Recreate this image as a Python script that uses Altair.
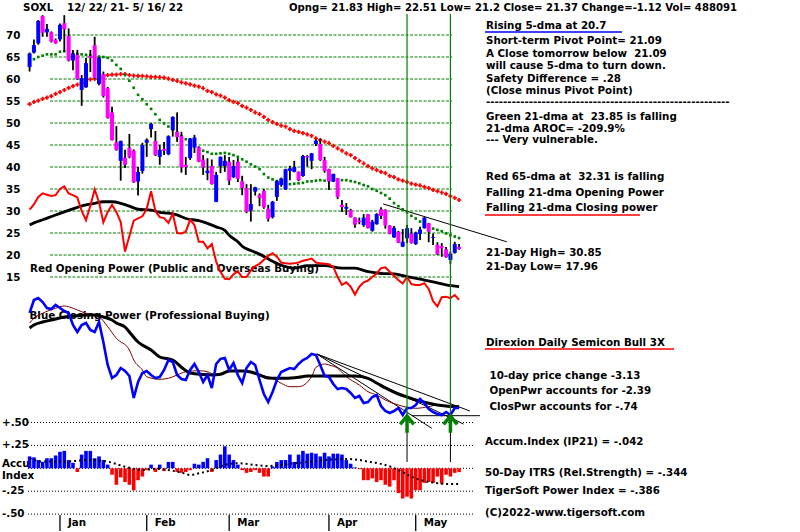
import altair as alt
import pandas as pd

# ---------------- data ----------------
day = list(range(100))   # trading days 12/22/21 .. 5/16/22
open_ = [62.7, 66.0, 68.1, 74.3, 70.6, 70.6, 68.9, 69.0, 72.7, 69.8,
         64.2, 65.5, 57.5, 58.1, 65.2, 67.7, 58.9, 61.1, 57.9, 52.4,
         45.6, 41.4, 42.1, 44.4, 43.7, 36.7, 39.1, 45.5, 48.6, 45.9,
         42.3, 44.1, 42.9, 48.4, 48.0, 47.0, 40.5, 42.0, 44.4, 44.5,
         41.7, 38.6, 40.2, 32.1, 40.2, 40.2, 41.2, 37.7, 41.2, 36.8,
         35.2, 30.1, 34.4, 33.6, 34.6, 30.5, 28.6, 33.2, 35.9, 34.9,
         39.1, 38.9, 38.9, 37.95, 42.5, 41.4, 45.2, 45.2, 41.6, 39.5,
         36.7, 37.4, 31.4, 30.5, 30.2, 28.5, 27.8, 26.8, 29.25, 25.5,
         27.0, 30.4, 30.2, 26.7, 24.0, 25.3, 21.9, 23.8, 24.9, 22.5,
         24.8, 26.1, 27.2, 23.9, 22.3, 22.0, 21.3, 18.9, 20.5, 21.83]
high = [66.0, 69.0, 73.4, 74.5, 72.5, 70.8, 69.2, 72.6, 74.5, 71.5,
        66.6, 66.6, 60.9, 64.8, 66.6, 69.6, 65.0, 61.7, 58.2, 53.7,
        49.3, 46.0, 43.9, 47.5, 44.0, 40.0, 45.5, 46.5, 50.0, 48.2,
        45.0, 45.7, 47.2, 51.5, 52.4, 48.0, 42.3, 46.6, 47.3, 44.7,
        42.7, 42.0, 41.7, 38.9, 42.4, 42.7, 42.3, 41.6, 42.0, 38.0,
        36.1, 36.1, 35.5, 34.0, 35.0, 31.4, 32.3, 37.0, 37.6, 39.6,
        40.3, 41.4, 39.0, 42.7, 42.7, 43.2, 46.3, 46.5, 42.3, 39.6,
        38.5, 37.5, 32.5, 31.8, 30.5, 28.6, 28.5, 29.3, 29.3, 28.0,
        29.5, 30.85, 30.4, 26.8, 26.6, 25.5, 25.9, 26.8, 26.1, 25.3,
        26.4, 28.6, 27.3, 24.9, 22.9, 22.7, 21.8, 20.75, 23.0, 22.51]
low = [61.7, 65.8, 67.8, 69.6, 69.6, 68.3, 68.0, 68.5, 66.2, 64.0,
       62.0, 59.8, 53.9, 58.0, 61.6, 60.0, 58.6, 55.8, 51.0, 46.0,
       43.7, 36.9, 39.8, 42.0, 36.4, 33.5, 38.5, 42.3, 46.7, 42.5,
       40.5, 42.7, 42.7, 46.9, 45.7, 38.7, 38.2, 41.6, 43.2, 41.1,
       38.2, 37.0, 36.0, 32.0, 38.6, 38.9, 35.9, 37.5, 36.6, 33.6,
       29.5, 27.6, 33.5, 31.1, 30.5, 27.6, 28.3, 32.3, 35.5, 34.8,
       37.0, 38.8, 36.8, 37.8, 40.1, 39.5, 44.8, 41.4, 38.7, 34.8,
       36.6, 32.7, 29.8, 29.1, 28.5, 26.2, 27.0, 26.4, 26.0, 25.3,
       26.9, 28.2, 26.0, 24.7, 23.9, 22.7, 21.8, 22.7, 22.6, 22.3,
       23.4, 26.0, 22.9, 22.3, 20.0, 19.6, 19.4, 17.96, 20.3, 21.2]
close = [65.8, 67.7, 73.2, 70.5, 71.4, 68.5, 68.1, 72.3, 71.3, 64.2,
         65.8, 60.0, 60.2, 63.6, 64.8, 60.2, 64.8, 56.1, 51.1, 46.1,
         43.9, 45.9, 40.5, 42.3, 36.5, 38.9, 45.0, 46.2, 49.8, 42.7,
         43.9, 43.7, 47.0, 51.4, 46.8, 39.9, 40.0, 46.5, 46.7, 41.2,
         39.9, 39.2, 36.1, 38.2, 42.3, 41.4, 36.9, 40.2, 37.3, 35.2,
         29.8, 31.6, 35.4, 33.0, 30.8, 28.2, 32.1, 36.8, 37.4, 39.5,
         39.7, 40.0, 37.0, 42.5, 42.2, 43.1, 46.0, 41.6, 39.1, 36.7,
         38.4, 33.2, 30.9, 30.9, 28.6, 26.9, 27.5, 28.5, 26.1, 27.6,
         29.3, 28.9, 26.7, 24.8, 26.2, 22.8, 23.0, 26.1, 22.7, 25.1,
         25.8, 28.5, 25.3, 24.1, 20.2, 21.5, 19.5, 20.3, 22.49, 21.37]
ma21 = [64.3, 64.5, 65.0, 65.3, 65.6, 65.6, 65.6, 66.2, 66.3, 66.0,
        65.8, 65.7, 65.6, 65.5, 65.4, 65.3, 65.1, 65.0, 64.8, 64.2,
        63.2, 62.3, 60.9, 59.6, 58.0, 56.4, 55.4, 54.25, 53.2, 52.0,
        50.7, 49.9, 49.2, 48.5, 47.8, 47.0, 46.3, 45.6, 45.0, 44.3,
        43.7, 43.4, 43.0, 43.0, 43.1, 43.2, 43.0, 42.7, 42.3, 41.75,
        41.2, 40.6, 40.1, 39.5, 38.4, 37.6, 37.2, 36.8, 36.4, 36.2,
        36.1, 36.2, 36.3, 36.4, 36.7, 36.75, 36.9, 37.0, 36.9, 36.9,
        37.0, 37.0, 37.0, 37.0, 36.8, 36.6, 36.3, 35.9, 35.6, 35.0,
        34.6, 34.1, 33.6, 32.8, 31.8, 31.1, 30.4, 29.7, 28.9, 28.3,
        27.6, 26.9, 26.4, 26.0, 25.7, 25.4, 24.9, 24.5, 24.2, 23.85]
ma65 = [54.3, 54.8, 55.1, 55.5, 55.75, 56.1, 56.6, 57.0, 57.5, 58.0,
        58.4, 58.7, 59.1, 59.5, 59.9, 60.0, 60.3, 60.6, 60.9, 61.0,
        61.0, 61.1, 61.1, 60.9, 60.75, 60.7, 60.7, 60.6, 60.5, 60.5,
        60.4, 60.3, 60.1, 59.8, 59.55, 59.25, 59.0, 58.8, 58.5, 58.25,
        57.9, 57.3, 57.0, 56.5, 56.2, 55.75, 55.2, 54.8, 54.5, 53.9,
        53.5, 53.0, 52.4, 52.0, 51.4, 50.7, 50.2, 49.8, 49.4, 49.2,
        48.6, 48.2, 48.0, 47.7, 47.4, 47.1, 46.5, 46.1, 45.75, 45.4,
        44.8, 44.25, 43.7, 43.1, 42.7, 42.0, 41.4, 40.8, 40.2, 39.7,
        39.3, 38.9, 38.6, 38.0, 37.7, 37.2, 36.9, 36.6, 36.2, 36.0,
        35.8, 35.5, 35.2, 34.8, 34.5, 34.2, 33.9, 33.4, 33.0, 32.5]
# Opening Power (drawn on the price panel's scale)
open_power = [30.3, 31.5, 33.2, 34.0, 33.7, 33.4, 33.6, 35.0, 35.6, 34.0,
              33.6, 33.1, 30.0, 27.9, 31.2, 34.9, 32.0, 27.4, 29.8, 31.4,
              29.8, 27.5, 20.8, 24.3, 27.8, 28.3, 28.8, 30.5, 34.5, 30.0,
              28.6, 28.4, 27.3, 29.4, 25.0, 24.9, 25.3, 28.0, 26.8, 23.0,
              23.0, 21.5, 22.5, 18.5, 16.2, 14.6, 14.5, 15.6, 16.3, 15.0,
              15.0, 16.5, 17.5, 18.0, 18.9, 19.8, 20.4, 19.6, 18.3, 18.1,
              18.0, 18.1, 18.3, 18.7, 18.9, 19.2, 18.3, 18.1, 18.0, 17.9,
              17.3, 15.0, 13.2, 13.8, 12.8, 11.0, 12.8, 13.8, 14.2, 15.0,
              15.8, 17.0, 17.2, 16.2, 15.3, 14.3, 13.5, 15.0, 13.4, 13.2,
              13.2, 13.6, 12.3, 9.5, 8.3, 10.4, 10.5, 10.2, 10.9, 9.8]
op_ma_days = [0, 1, 3, 6, 8, 10, 13, 15, 17, 19, 21, 23, 25, 28, 30, 32, 34, 36, 39, 41,
              43, 45, 46, 48, 49, 51, 53, 57, 61, 64, 68, 72, 75, 78, 81, 84, 87, 90, 93, 96, 99]
op_ma_vals = [26.8, 27.3, 28.0, 29.1, 29.8, 30.5, 31.4, 31.75, 32.1, 32.1, 31.75, 31.1, 30.4, 30.2,
              29.7, 29.5, 29.1, 28.3, 27.8, 27.2, 26.4, 25.6, 24.5, 23.0, 22.0, 21.0, 20.2, 18.1,
              17.0, 17.6, 17.6, 17.0, 17.0, 16.2, 15.8, 15.7, 15.1, 14.5, 13.9, 13.2, 12.8]
# Closing Power (own panel scale)
closing_power = [107, 120, 122, 118, 112, 111, 115, 112, 109, 107,
                 95, 88, 95, 97, 90, 88, 98, 78, 55, 42,
                 45, 52, 49, 44, 22, 38, 47, 49, 45, 42,
                 43, 50, 60, 58, 45, 41, 40, 50, 56, 48,
                 38, 45, 32, 56, 61, 62, 50, 57, 45, 37,
                 52, 58, 55, 40, 26, 18, 28, 40, 48, 50,
                 52, 51, 56, 60, 62, 66, 65, 55, 44, 43,
                 36, 31, 32, 31, 27, 22, 24, 17, 18, 23,
                 25, 14, 9, 7, 9, 12, 5, 12, 12, 15,
                 21, 17, 11, 8, 6, 5, 8, 5, 12, 12]
cp_ma_days = [0, 1, 3, 6, 8, 10, 13, 15, 17, 19, 20, 22, 23, 25, 28, 30, 33, 35, 37, 40,
              42, 44, 46, 49, 51, 53, 55, 57, 59, 62, 64, 66, 69, 72, 75, 78, 80, 82, 85, 87,
              89, 92, 94, 96, 99]
cp_ma_vals = [92, 95, 98, 101, 103, 104, 105, 105, 103, 100, 97, 93, 88, 78, 70, 63, 60, 52.7, 47, 45.5,
              45, 45.7, 49, 49, 48, 45, 42, 41.7, 41.7, 42.7, 44, 44, 44, 44, 44, 41.7, 37, 32, 26, 23,
              20, 16.7, 15, 14, 13.3]
cp_ma2_days = [0, 1, 3, 6, 8, 9, 11, 13, 16, 18, 20, 23, 24, 26, 27, 30, 32, 34, 36, 39,
               41, 43, 45, 46, 49, 51, 53, 56, 58, 60, 62, 65, 66, 68, 69, 71, 73, 76, 78, 80,
               82, 85, 87, 89, 92, 94, 96, 99]
cp_ma2_vals = [97, 101.7, 106.7, 111.7, 114, 113.3, 110, 106.7, 103.3, 93.3, 81.7, 70, 60, 50, 43.3,
               40.7, 41.7, 45, 48.3, 49.3, 48.3, 45, 46.7, 49.3, 49.3, 47.3, 45, 41.7, 36.7, 33.3,
               33.3, 43.3, 52.7, 56, 55, 51.7, 43.3, 35, 28.3, 25, 20, 15, 12.7, 11.7, 13.3, 15,
               13.3, 12.7]
# Accumulation index (IP21)
accum = [0.13, 0.12, 0.09, 0.07, 0.11, 0.11, 0.14, 0.18, 0.19, 0.09,
         0.06, -0.04, 0.15, 0.19, 0.19, 0.11, 0.13, 0.09, 0.04, -0.07,
         -0.18, -0.10, -0.15, -0.18, -0.24, -0.13, -0.09, -0.02, 0.04, -0.04,
         0.04, -0.03, 0.07, 0.07, -0.04, -0.05, -0.04, -0.02, 0.05, 0.04,
         0.07, 0.11, -0.04, 0.09, 0.15, 0.24, 0.15, 0.09, 0.04, -0.02,
         -0.05, -0.04, -0.02, -0.05, -0.09, -0.09, 0.02, 0.07, 0.09, 0.09,
         0.15, 0.07, 0.15, 0.19, 0.16, 0.17, 0.16, 0.13, 0.17, 0.13,
         0.16, 0.16, 0.15, 0.09, 0.05, 0.01, -0.01, -0.13, -0.13, -0.11,
         -0.15, -0.13, -0.18, -0.20, -0.13, -0.27, -0.33, -0.31, -0.33, -0.24,
         -0.24, -0.16, -0.15, -0.16, -0.09, -0.17, -0.07, -0.09, -0.05, -0.042]
acc_ma_days = [0, 3, 8, 14, 18, 22, 26, 29, 35, 37, 39, 42, 45, 48, 52, 55, 58, 61, 65, 68,
               71, 73, 76, 78, 82, 85, 88, 90, 93, 96, 99]
acc_ma_vals = [0.109, 0.073, 0.073, 0.091, 0.073, 0.018, -0.018, -0.007, -0.047, -0.073,
               -0.055, -0.018, 0.036, 0.055, 0.036, 0.025, 0.036, 0.055, 0.073, 0.091,
               0.098, 0.102, 0.091, 0.073, 0.036, -0.018, -0.091, -0.127, -0.156, -0.171, -0.171]
# trend lines (day, value) pairs
price_trend_days = [81.5, 110.0]
price_trend_vals = [31.6, 23.0]
cp_trend_ids = ["a", "a", "b", "b", "c", "c", "h", "h"]
cp_trend_days = [66.2, 101.5, 66.2, 100.0, 66.2, 92.7, 88.1, 103.8]
cp_trend_vals = [66, 9, 66, -4, 66, -8.3, 4.3, 4.3]
signal_days = [87, 97]
month_days = [7, 27, 46, 69, 89]
month_labels = ["Jan", "Feb", "Mar", "Apr", "May"]
price_ticks = [70, 65, 60, 55, 50, 45, 40, 35, 30, 25, 20, 15]
accum_ticks = [0.5, 0.25, 0.0, -0.25, -0.5]
accum_tick_labels = ["+.50", "+.25", "", "-.25", "-.50"]

# ---------------- layout / styles ----------------
FONT = "DejaVu Sans"
FS = 10.3
NB = "\u00a0"
XS = alt.Scale(domain=[0, 99], range=[29.6, 459.1], nice=False, zero=False)
PRICE = alt.Scale(domain=[15, 70], range=[277, 35], nice=False, zero=False)
CPS = alt.Scale(domain=[0, 140], range=[420, 280], nice=False, zero=False)
ACC = alt.Scale(domain=[-0.5, 0.5], range=[514.1, 422.5], nice=False, zero=False)
GREEN = "#008000"

header_text = "Opng= 21.83 High= 22.51 Low= 21.2 Close= 21.37 Change=-1.12 Vol= 488091"
texts = [
    (23, 11, "SOXL"),
    (67, 11, "12/ 22/ 21- 5/ 16/ 22"),
    (486, 29, "Rising 5-dma at 20.7"),
    (486, 44, "Short-term Pivot Point= 21.09"),
    (486, 56.5, "A Close tomorrow below" + NB + NB + "21.09"),
    (486, 68.5, "will cause 5-dma to turn down."),
    (486, 81.5, "Safety Difference = .28"),
    (486, 93.5, NB + "(Close minus Pivot Point)"),
    (486, 104.5, "-" * 57),
    (486, 119.5, "Green 21-dma at" + NB + NB + "23.85 is falling"),
    (486, 132, "21-dma AROC= -209.9%"),
    (486, 142.5, "--- Very vulnerable."),
    (486, 180, "Red 65-dma at" + NB + NB + "32.31 is falling"),
    (486, 196, "Falling 21-dma Opening Power"),
    (486, 211, "Falling 21-dma Closing power"),
    (486, 256, "21-Day High= 30.85"),
    (486, 270, "21-Day Low= 17.96"),
    (486, 345.5, "Direxion Daily Semicon Bull 3X"),
    (489.5, 379, "10-day price change -3.13"),
    (489.5, 393.5, "OpenPwr accounts for -2.39"),
    (489.5, 410, "ClosPwr accounts for -.74"),
    (485, 445, "Accum.Index (IP21) = -.042"),
    (485, 475.5, "50-Day ITRS (Rel.Strength) = -.344"),
    (485, 494, "TigerSoft Power Index = -.386"),
    (485, 516, "(C)2022-www.tigersoft.com"),
    (30, 272, "Red Opening Power (Public and Overseas Buying)"),
    (29.5, 318.5, "Blue Closing Power (Professional Buying)"),
    (2, 467, "Accu"),
    (2, 479, "Index"),
]
underlines = [(485, 622, 32, "#0000ff"), (485, 640, 215, "#ff0000"), (485, 674, 349, "#ff0000")]

# ---------------- frames ----------------
daily = pd.DataFrame({"day": day, "open": open_, "high": high, "low": low, "close": close,
                      "ma21": ma21, "ma65": ma65, "op": open_power, "cp": closing_power,
                      "acc": accum})
X = alt.X("day:Q", scale=XS, axis=None)

def yq(field, scale):
    return alt.Y(f"{field}:Q", scale=scale, axis=None)

layers = []

# gridlines
layers.append(alt.Chart(pd.DataFrame({"p": price_ticks})).mark_rule(
    color=GREEN, strokeWidth=1, strokeDash=[3, 1.5]).encode(
    y=yq("p", PRICE), x=alt.value(50), x2=alt.value(452)))
layers.append(alt.Chart(pd.DataFrame({"a": accum_ticks})).mark_rule(
    color="black", strokeWidth=1, strokeDash=[1, 2]).encode(
    y=yq("a", ACC), x=alt.value(28), x2=alt.value(473)))

# axis-like labels
layers.append(alt.Chart(pd.DataFrame({"p": price_ticks, "lab": [str(v) for v in price_ticks]})).mark_text(
    font=FONT, fontWeight="bold", fontSize=FS, align="left", baseline="middle", dy=1, color="black").encode(
    x=alt.value(6), y=yq("p", PRICE), text="lab:N"))
layers.append(alt.Chart(pd.DataFrame({"a": accum_ticks, "lab": accum_tick_labels})).mark_text(
    font=FONT, fontWeight="bold", fontSize=FS, align="left", baseline="middle", color="black").encode(
    x=alt.value(2), y=yq("a", ACC), text="lab:N"))

# texts
tdf = pd.DataFrame(texts, columns=["px", "py", "label"])
layers.append(alt.Chart(tdf).mark_text(
    font=FONT, fontWeight="bold", fontSize=FS, align="left", baseline="alphabetic", color="black").encode(
    x=alt.X("px:Q", scale=None, axis=None), y=alt.Y("py:Q", scale=None, axis=None), text="label:N"))
layers.append(alt.Chart(pd.DataFrame({"t": [header_text]})).mark_text(
    font=FONT, fontWeight="bold", fontSize=10.1, align="left", baseline="alphabetic", color="black").encode(
    x=alt.value(289), y=alt.value(11), text="t:N"))
udf = pd.DataFrame(underlines, columns=["x1", "x2", "y", "c"])
layers.append(alt.Chart(udf).mark_rule(strokeWidth=1.3).encode(
    x=alt.X("x1:Q", scale=None, axis=None), x2="x2:Q",
    y=alt.Y("y:Q", scale=None, axis=None), color=alt.Color("c:N", scale=None)))

# trend lines
layers.append(alt.Chart(pd.DataFrame({"day": price_trend_days, "v": price_trend_vals})).mark_line(
    color="black", strokeWidth=1).encode(x=X, y=yq("v", PRICE)))
layers.append(alt.Chart(pd.DataFrame({"id": cp_trend_ids, "day": cp_trend_days, "v": cp_trend_vals})).mark_line(
    color="black", strokeWidth=1).encode(x=X, y=yq("v", CPS), detail="id:N"))

# opening power
layers.append(alt.Chart(pd.DataFrame({"day": op_ma_days, "v": op_ma_vals})).mark_line(
    color="black", strokeWidth=2.8, interpolate="monotone").encode(x=X, y=yq("v", PRICE)))
layers.append(alt.Chart(daily).mark_line(color="#ff0000", strokeWidth=2).encode(x=X, y=yq("op", PRICE)))

# moving averages of price
layers.append(alt.Chart(daily).mark_point(shape="cross", filled=True, size=18, color="#ff0000", opacity=1).encode(
    x=X, y=yq("ma65", PRICE)))
layers.append(alt.Chart(daily).mark_square(size=7, color=GREEN, opacity=1).encode(
    x=X, y=yq("ma21", PRICE)))

# candles
layers.append(alt.Chart(daily).mark_rule(color="black", strokeWidth=1.8).encode(
    x=X, y=yq("high", PRICE), y2="low:Q"))
layers.append(alt.Chart(daily).transform_calculate(
    dir="datum.close >= datum.open ? 'up' : 'down'").mark_rule(strokeWidth=4).encode(
    x=X, y=yq("open", PRICE), y2="close:Q",
    color=alt.Color("dir:N", scale=alt.Scale(domain=["up", "down"], range=["#0000ff", "#ff00ff"]), legend=None)))

# closing power
layers.append(alt.Chart(pd.DataFrame({"day": cp_ma2_days, "v": cp_ma2_vals})).mark_line(
    color="#800000", strokeWidth=1, interpolate="monotone").encode(x=X, y=yq("v", CPS)))
layers.append(alt.Chart(pd.DataFrame({"day": cp_ma_days, "v": cp_ma_vals})).mark_line(
    color="black", strokeWidth=3, interpolate="monotone").encode(x=X, y=yq("v", CPS)))
layers.append(alt.Chart(daily).mark_line(color="#0000ff", strokeWidth=2.6).encode(x=X, y=yq("cp", CPS)))

# accumulation bars
layers.append(alt.Chart(daily).transform_calculate(
    base="0", sign="datum.acc >= 0 ? 'pos' : 'neg'").mark_rule(strokeWidth=3.6).encode(
    x=X, y=yq("acc", ACC), y2="base:Q",
    color=alt.Color("sign:N", scale=alt.Scale(domain=["pos", "neg"], range=["#0000ff", "#ff0000"]), legend=None)))
layers.append(alt.Chart(pd.DataFrame({"day": acc_ma_days, "v": acc_ma_vals})).mark_line(
    color="black", strokeWidth=2, strokeDash=[2, 3], interpolate="monotone").encode(x=X, y=yq("v", ACC)))

# signals
sig = pd.DataFrame({"day": signal_days})
layers.append(alt.Chart(sig).mark_rule(color=GREEN, strokeWidth=1.2).encode(
    x=X, y=alt.value(14), y2=alt.value(417)))
layers.append(alt.Chart(sig).mark_rule(color="black", strokeWidth=1).encode(
    x=X, y=alt.value(431), y2=alt.value(462)))
layers.append(alt.Chart(sig).mark_point(
    shape="M-0.85,0.05L0,-1L0.85,0.05M0,-1L0,1.1", filled=False, size=256,
    stroke=GREEN, strokeWidth=3.5, opacity=1).encode(x=X, y=alt.value(424)))

# month ticks and labels
mdf = pd.DataFrame({"day": month_days, "m": month_labels})
layers.append(alt.Chart(mdf).mark_rule(color="black", strokeWidth=1.3).encode(
    x=X, y=alt.value(515), y2=alt.value(531)))
layers.append(alt.Chart(mdf).mark_text(
    font=FONT, fontWeight="bold", fontSize=FS, align="left", baseline="alphabetic", dx=8, color="black").encode(
    x=X, y=alt.value(525.5), text="m:N"))

chart = alt.layer(*layers).resolve_scale(
    x="independent", y="independent", color="independent"
).properties(
    width=800, height=532, autosize=alt.AutoSizeParams(type="none"), padding=0, background="white"
).configure_view(strokeWidth=0)

chart.save("out.html", embed_options={"renderer": "svg", "actions": False})
